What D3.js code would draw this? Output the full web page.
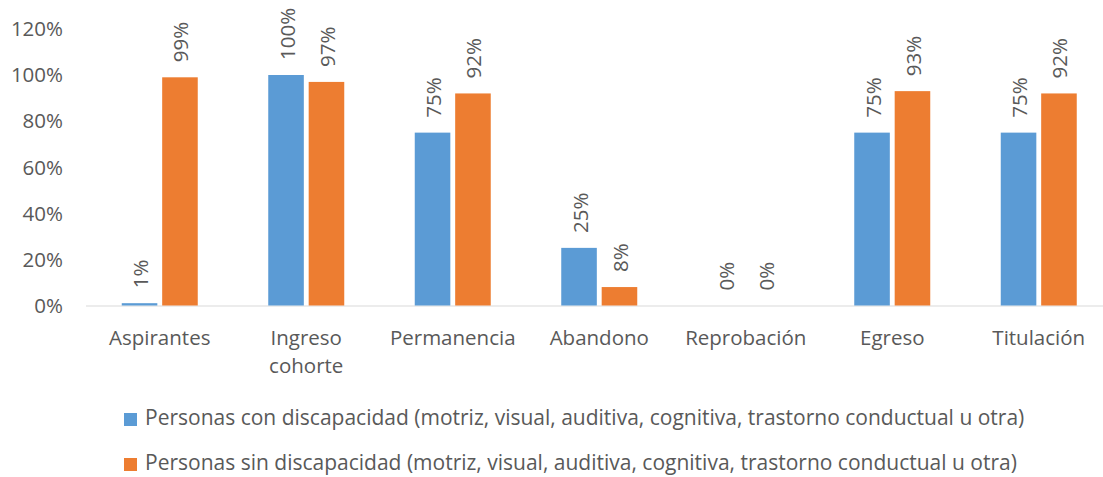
<!DOCTYPE html>
<html>
<head>
<meta charset="utf-8">
<script src="https://cdn.jsdelivr.net/npm/d3@7"></script>
<style>
  body { margin: 0; background: #fff; overflow: hidden; }
  text { font-family: 'Open Sans', sans-serif; fill: #595959; }
</style>
</head>
<body>
<div id="chart"></div>
<script>
const categories = [['Aspirantes'], ['Ingreso', 'cohorte'], ['Permanencia'], ['Abandono'], ['Reprobación'], ['Egreso'], ['Titulación']];
const conDiscapacidad = [0.01, 1.00, 0.75, 0.25, 0, 0.75, 0.75];
const sinDiscapacidad = [0.99, 0.97, 0.92, 0.08, 0, 0.93, 0.92];
const seriesNames = [
  'Personas con discapacidad (motriz, visual, auditiva, cognitiva, trastorno conductual u otra)',
  'Personas sin discapacidad (motriz, visual, auditiva, cognitiva, trastorno conductual u otra)'
];
const yTicks = [0, 0.2, 0.4, 0.6, 0.8, 1.0, 1.2];

const width = 1103;
const height = 477;
const colors = ['#5B9BD5', '#ED7D31'];
const fontSize = '20.5px';

const svg = d3.select('#chart')
    .append('svg')
    .attr('width', width)
    .attr('height', height);

const x = d3.scaleBand()
    .domain(categories.map((d, i) => i))
    .range([86.5, 1112]);

const x1 = d3.scaleBand()
    .domain([0, 1])
    .range([x.bandwidth() / 2 - 38, x.bandwidth() / 2 + 38])
    .paddingInner(0.12);

const y = d3.scaleLinear()
    .domain([0, 1.2])
    .range([305.5, 28.9]);

// y axis labels
svg.append('g')
    .selectAll('text')
    .data(yTicks)
    .enter()
    .append('text')
    .attr('x', 63)
    .attr('y', (d) => y(d))
    .attr('dy', '0.36em')
    .attr('text-anchor', 'end')
    .style('font-size', fontSize)
    .text(d3.format('.0%'));

// baseline
svg.append('line')
    .attr('x1', 86)
    .attr('x2', width)
    .attr('y1', y(0) + 0.5)
    .attr('y2', y(0) + 0.5)
    .attr('stroke', '#d9d9d9')
    .attr('stroke-width', 1);

const rows = categories.map((c, i) => [conDiscapacidad[i], sinDiscapacidad[i]]);

const groups = svg.selectAll('.group')
    .data(rows)
    .enter()
    .append('g')
    .attr('class', 'group')
    .attr('transform', (d, i) => 'translate(' + x(i) + ',0)');

groups.selectAll('rect')
    .data((d) => d)
    .enter()
    .append('rect')
    .attr('x', (d, j) => x1(j))
    .attr('width', x1.bandwidth())
    .attr('y', (d) => y(d))
    .attr('height', (d) => y(0) - y(d))
    .attr('fill', (d, j) => colors[j]);

groups.selectAll('.val')
    .data((d) => d)
    .enter()
    .append('text')
    .attr('class', 'val')
    .attr('transform', function(d, j) {
      const cx = x1(j) + x1.bandwidth() / 2;
      return 'translate(' + (cx + 8.5) + ',' + (y(d) - 15) + ') rotate(-90)';
    })
    .attr('text-anchor', 'start')
    .style('font-size', fontSize)
    .text(d3.format('.0%'));

// category labels
const catLabels = svg.selectAll('.cat')
    .data(categories)
    .enter()
    .append('text')
    .attr('class', 'cat')
    .attr('text-anchor', 'middle')
    .style('font-size', fontSize);

catLabels.selectAll('tspan')
    .data((d, i) => d.map((line) => ({line: line, i: i})))
    .enter()
    .append('tspan')
    .attr('x', (d) => x(d.i) + x.bandwidth() / 2)
    .attr('y', (d, k) => 345 + k * 28)
    .text((d) => d.line);

// legend
const legend = svg.selectAll('.legend')
    .data(seriesNames)
    .enter()
    .append('g')
    .attr('class', 'legend')
    .attr('transform', (d, i) => 'translate(124,' + (413 + i * 45) + ')');

legend.append('rect')
    .attr('width', 13)
    .attr('height', 13)
    .attr('fill', (d, i) => colors[i]);

legend.append('text')
    .attr('x', 21)
    .attr('y', 12)
    .style('font-size', '21px')
    .text((d) => d);
</script>
</body>
</html>
